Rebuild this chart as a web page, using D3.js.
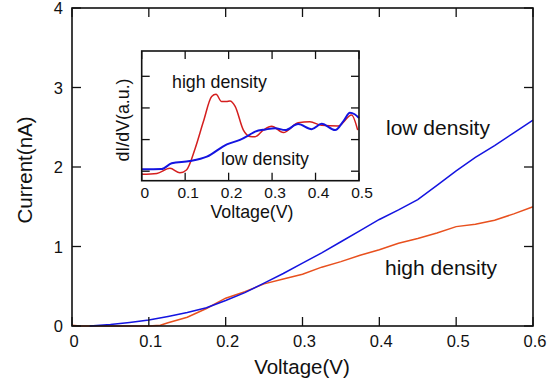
<!DOCTYPE html>
<html>
<head>
<meta charset="utf-8">
<script src="https://cdn.jsdelivr.net/npm/d3@7"></script>
<style>
  body { margin: 0; background: #fff; }
  text { font-family: "Liberation Sans", Arial, sans-serif; fill: #111; }
</style>
</head>
<body>
<script>
// main I-V curves (V, nA)
var lowV  = [0.023, 0.05, 0.075, 0.1, 0.125, 0.15, 0.175, 0.2, 0.225, 0.25, 0.275, 0.3, 0.325, 0.35, 0.375, 0.4, 0.425, 0.45, 0.475, 0.5, 0.525, 0.55, 0.575, 0.6];
var lowI  = [0, 0.02, 0.045, 0.075, 0.12, 0.17, 0.23, 0.32, 0.42, 0.54, 0.66, 0.79, 0.92, 1.06, 1.2, 1.34, 1.46, 1.59, 1.77, 1.95, 2.12, 2.27, 2.43, 2.59];
var highV = [0, 0.01, 0.065, 0.1, 0.115, 0.125, 0.15, 0.175, 0.2, 0.225, 0.25, 0.275, 0.3, 0.325, 0.35, 0.375, 0.4, 0.425, 0.45, 0.475, 0.5, 0.525, 0.55, 0.575, 0.6];
var highI = [0.01, 0, 0, 0, 0.01, 0.04, 0.11, 0.22, 0.35, 0.43, 0.53, 0.59, 0.65, 0.74, 0.81, 0.89, 0.96, 1.04, 1.1, 1.17, 1.25, 1.28, 1.33, 1.41, 1.5];

// inset dI/dV curves (V, a.u.)
var dLowV  = [0, 0.046, 0.069, 0.111, 0.15, 0.196, 0.226, 0.249, 0.261, 0.285, 0.307, 0.33, 0.36, 0.391, 0.414, 0.445, 0.465, 0.479, 0.49, 0.5];
var dLowY  = [0.06, 0.07, 0.25, 0.32, 0.46, 0.85, 0.99, 1.16, 1.25, 1.32, 1.36, 1.3, 1.49, 1.33, 1.5, 1.3, 1.6, 1.85, 1.8, 1.68];
var dHighV = [0, 0.035, 0.065, 0.088, 0.103, 0.123, 0.142, 0.161, 0.171, 0.184, 0.195, 0.203, 0.215, 0.234, 0.249, 0.261, 0.28, 0.299, 0.326, 0.36, 0.387, 0.414, 0.452, 0.483, 0.497];
var dHighY = [-0.1, -0.07, 0.09, -0.05, 0.04, 0.72, 1.57, 2.36, 2.43, 2.2, 2.2, 2.22, 2.05, 1.3, 1.1, 1.09, 1.3, 1.42, 1.22, 1.53, 1.56, 1.45, 1.43, 1.78, 1.3];

var xTicks = [0, 0.1, 0.2, 0.3, 0.4, 0.5, 0.6];
var yTicks = [0, 1, 2, 3, 4];
var insetXTicks = [0, 0.1, 0.2, 0.3, 0.4, 0.5];
var insetYTicks = [0, 1, 2, 3];

var width = 550, height = 389;
var blue = "#1414e0", orange = "#e8501e", red = "#d41e1e";

var svg = d3.select("body").append("svg")
  .attr("width", width)
  .attr("height", height);

// ---- main plot ----
var x = d3.scaleLinear().domain([0, 0.6]).range([72, 533]);
var y = d3.scaleLinear().domain([0, 4]).range([326, 8]);

function zip(a, b) { return a.map(function(v, i){ return [v, b[i]]; }); }

var line = d3.line().x(function(d){ return x(d[0]); }).y(function(d){ return y(d[1]); });

svg.append("path").datum(zip(highV, highI))
  .attr("d", line).attr("fill", "none").attr("stroke", orange).attr("stroke-width", 1.5);
svg.append("path").datum(zip(lowV, lowI))
  .attr("d", line).attr("fill", "none").attr("stroke", blue).attr("stroke-width", 1.5);

// frame with inward ticks on four sides
function frame(g, sx, sy, xt, yt, tl) {
  var x0 = sx.range()[0], x1 = sx.range()[1], y0 = sy.range()[0], y1 = sy.range()[1];
  g.append("rect").attr("x", x0).attr("y", y1).attr("width", x1 - x0).attr("height", y0 - y1)
    .attr("fill", "none").attr("stroke", "#111").attr("stroke-width", 1.6);
  xt.forEach(function(t){
    g.append("line").attr("x1", sx(t)).attr("x2", sx(t)).attr("y1", y0).attr("y2", y0 - tl).attr("stroke", "#111").attr("stroke-width", 1.3);
    g.append("line").attr("x1", sx(t)).attr("x2", sx(t)).attr("y1", y1).attr("y2", y1 + tl).attr("stroke", "#111").attr("stroke-width", 1.3);
  });
  yt.forEach(function(t){
    g.append("line").attr("x1", x0).attr("x2", x0 + tl).attr("y1", sy(t)).attr("y2", sy(t)).attr("stroke", "#111").attr("stroke-width", 1.3);
    g.append("line").attr("x1", x1).attr("x2", x1 - tl).attr("y1", sy(t)).attr("y2", sy(t)).attr("stroke", "#111").attr("stroke-width", 1.3);
  });
}

var main = svg.append("g");
frame(main, x, y, xTicks, yTicks, 9);

main.selectAll(".xl").data(xTicks).enter().append("text")
  .attr("x", function(d){ return x(d) + 2; }).attr("y", 347)
  .attr("text-anchor", "middle").style("font-size", "16.5px")
  .text(function(d){ return d === 0 ? "0" : d3.format(".1f")(d); });
main.selectAll(".yl").data(yTicks).enter().append("text")
  .attr("x", 63).attr("y", function(d){ return y(d) + 6; })
  .attr("text-anchor", "end").style("font-size", "16.5px")
  .text(function(d){ return d; });

svg.append("text").attr("x", 302).attr("y", 374).attr("text-anchor", "middle")
  .style("font-size", "20.5px").text("Voltage(V)");
svg.append("text").attr("transform", "translate(32,170) rotate(-90)").attr("text-anchor", "middle")
  .style("font-size", "20.5px").text("Current(nA)");

svg.append("text").attr("x", 386).attr("y", 135).style("font-size", "21px").text("low density");
svg.append("text").attr("x", 385).attr("y", 275).style("font-size", "21px").text("high density");

// ---- inset ----
var ix = d3.scaleLinear().domain([0, 0.5]).range([141.7, 359]);
var iy = d3.scaleLinear().domain([-0.3, 3.8]).range([180.7, 51]);

var inset = svg.append("g");
inset.append("rect").attr("x", 141.7).attr("y", 51).attr("width", 359 - 141.7).attr("height", 180.7 - 51).attr("fill", "#fff");

var iline = d3.line().curve(d3.curveMonotoneX)
  .x(function(d){ return ix(d[0]); }).y(function(d){ return iy(d[1]); });

inset.append("path").datum(zip(dHighV, dHighY))
  .attr("d", iline).attr("fill", "none").attr("stroke", red).attr("stroke-width", 1.5);
inset.append("path").datum(zip(dLowV, dLowY))
  .attr("d", iline).attr("fill", "none").attr("stroke", blue).attr("stroke-width", 2);

frame(inset, ix, iy, insetXTicks, insetYTicks, 8);

inset.selectAll(".ixl").data(insetXTicks).enter().append("text")
  .attr("x", function(d){ return ix(d) + 3; }).attr("y", 198)
  .attr("text-anchor", "middle").style("font-size", "15.5px")
  .text(function(d){ return d === 0 ? "0" : d3.format(".1f")(d); });

svg.append("text").attr("x", 252).attr("y", 218).attr("text-anchor", "middle")
  .style("font-size", "17.8px").text("Voltage(V)");
svg.append("text").attr("transform", "translate(129,120) rotate(-90)").attr("text-anchor", "middle")
  .style("font-size", "17.8px").text("dI/dV(a.u.)");

svg.append("text").attr("x", 172).attr("y", 88).style("font-size", "17.8px").text("high density");
svg.append("text").attr("x", 221).attr("y", 165).style("font-size", "17.8px").text("low density");
</script>
</body>
</html>
